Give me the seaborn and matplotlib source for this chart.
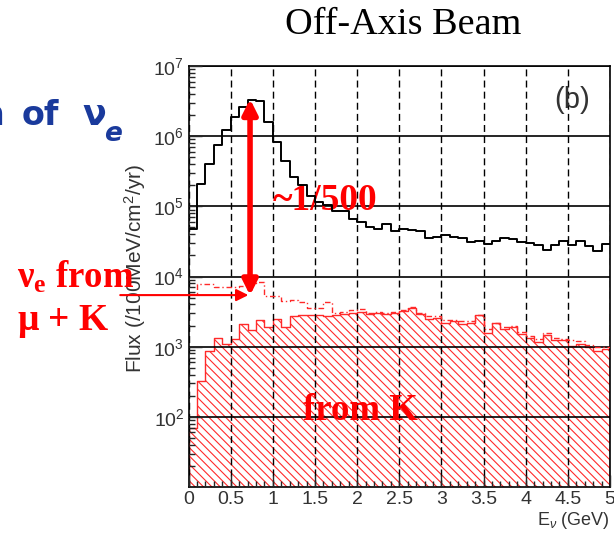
import numpy as np
import pandas as pd
import matplotlib
matplotlib.use("Agg")
import matplotlib.pyplot as plt
import seaborn as sns

# Energy bins (GeV), 0.1 GeV wide
energy_edges = [round(0.1 * i, 1) for i in range(51)]
energy_centers = [round(0.1 * i + 0.05, 2) for i in range(50)]

# nu_mu flux (black)
numu_flux = [4.8e4, 2.1e5, 4.0e5, 7.4e5, 1.23e6, 1.85e6, 2.57e6, 3.3e6, 3.2e6, 1.6e6,
             8.2e5, 4.4e5, 2.6e5, 2.0e5, 1.42e5, 1.17e5, 1.05e5, 8.5e4, 8.5e4, 6.7e4,
             5.9e4, 5.0e4, 4.8e4, 5.6e4, 4.5e4, 4.7e4, 4.6e4, 4.5e4, 3.5e4, 3.7e4,
             3.9e4, 3.7e4, 3.5e4, 3.1e4, 3.2e4, 2.9e4, 3.2e4, 3.5e4, 3.4e4, 3.1e4,
             3.0e4, 2.8e4, 2.4e4, 2.8e4, 3.2e4, 2.8e4, 3.2e4, 2.7e4, 2.3e4, 2.9e4]

# nu_e from mu + K (red dash-dot)
nue_total = [5.7e3, 7.9e3, 7.9e3, 7.2e3, 7.2e3, 7.2e3, 7.4e3, 8.0e3, 8.3e3, 5.2e3,
             5.2e3, 4.5e3, 4.6e3, 4.3e3, 3.6e3, 3.6e3, 4.3e3, 3.0e3, 3.1e3, 3.3e3,
             3.4e3, 3.0e3, 3.1e3, 3.0e3, 3.1e3, 3.3e3, 3.7e3, 3.0e3, 2.7e3, 2.7e3,
             2.4e3, 2.4e3, 2.3e3, 2.3e3, 2.8e3, 1.8e3, 2.2e3, 1.9e3, 2.0e3, 1.6e3,
             1.4e3, 1.3e3, 1.55e3, 1.35e3, 1.3e3, 1.25e3, 1.2e3, 1.05e3, 1.0e3, 1.0e3]

# nu_e from K (red hatched)
nue_from_k = [70, 320, 860, 1.35e3, 1.1e3, 1.3e3, 2.1e3, 1.7e3, 2.4e3, 1.9e3,
              2.5e3, 1.9e3, 2.7e3, 2.8e3, 2.8e3, 2.8e3, 2.7e3, 2.8e3, 2.9e3, 3.0e3,
              3.1e3, 2.9e3, 3.0e3, 2.9e3, 3.0e3, 3.2e3, 3.6e3, 2.9e3, 2.5e3, 2.6e3,
              2.2e3, 2.3e3, 2.1e3, 2.2e3, 2.8e3, 1.55e3, 2.15e3, 1.8e3, 1.9e3, 1.5e3,
              1.33e3, 1.15e3, 1.45e3, 1.25e3, 1.25e3, 1.03e3, 1.1e3, 1.0e3, 0.86e3, 0.93e3]

x_ticks = [0, 0.5, 1, 1.5, 2, 2.5, 3, 3.5, 4, 4.5, 5]
x_tick_labels = ["0", "0.5", "1", "1.5", "2", "2.5", "3", "3.5", "4", "4.5", "5"]
y_ticks = [1e2, 1e3, 1e4, 1e5, 1e6, 1e7]
y_tick_labels = ["$10^{2}$", "$10^{3}$", "$10^{4}$", "$10^{5}$", "$10^{6}$", "$10^{7}$"]

df = pd.DataFrame({"E": energy_centers, "numu": numu_flux,
                   "total": nue_total, "fromK": nue_from_k})

sns.set_theme(style="ticks")
plt.rcParams["font.family"] = ["Liberation Sans", "DejaVu Sans"]
plt.rcParams["text.color"] = "black"
plt.rcParams["mathtext.fontset"] = "custom"
plt.rcParams["mathtext.rm"] = "Liberation Sans"
plt.rcParams["mathtext.it"] = "Liberation Sans:italic"
plt.rcParams["mathtext.bf"] = "Liberation Serif:bold"
plt.rcParams["hatch.linewidth"] = 0.8

red = "#ff2a2a"
fig = plt.figure(figsize=(6.14, 5.35), dpi=100)
ax = fig.add_axes([188.5 / 614, 1 - 487 / 535, 421.5 / 614, 421 / 535])
ax.set_yscale("log")

# hatched "from K" histogram
sns.histplot(data=df, x="E", weights="fromK", bins=energy_edges, element="step",
             fill=True, color=red, hatch="\\\\\\\\", lw=1.0, alpha=1, ax=ax)
hatched = ax.collections[-1]
hatched.set_facecolor("none")
hatched.set_edgecolor(red)
hatched.set_zorder(1)

sns.histplot(data=df, x="E", weights="total", bins=energy_edges, element="step",
             fill=False, color=red, lw=1.0, linestyle=(0, (4, 2, 1, 2)), ax=ax, zorder=3)
sns.histplot(data=df, x="E", weights="numu", bins=energy_edges, element="step",
             fill=False, color="black", lw=1.4, ax=ax, zorder=4)

ax.set_xlim(0, 5)
ax.set_ylim(10, 1e7)
ax.set_xticks(x_ticks)
ax.set_xticklabels(x_tick_labels)
ax.set_xticks(energy_edges, minor=True)
ax.set_yticks(y_ticks)
ax.set_yticklabels(y_tick_labels)
ax.tick_params(axis="both", which="major", direction="in", length=9, width=1,
               labelsize=14, labelcolor="#333333", pad=3, top=False, right=False)
ax.tick_params(axis="both", which="minor", direction="in", length=4, width=1,
               top=False, right=False)
ax.xaxis.grid(True, which="major", ls=(0, (5, 3)), color="black", lw=1.0)
ax.yaxis.grid(True, which="major", ls="-", color="black", lw=1.2)
ax.set_axisbelow(False)
for s in ax.spines.values():
    s.set_linewidth(1.2)
    s.set_color("black")

ax.set_xlabel(r"E$_{\nu}$ (GeV)", fontsize=13, color="#333333", ha="right", x=1.0, labelpad=1)
ax.set_ylabel(r"Flux (/100MeV/cm$^{2}$/yr)", fontsize=15, color="#333333")
ax.yaxis.set_label_coords(-0.095, 0.52)

ax.text(4.55, 10**6.51, "(b)", fontsize=21, ha="center", va="center", color="#333333")

fig.text(403 / 614, 1 - 25 / 535, "Off-Axis Beam", ha="center", va="center",
         fontsize=27.5, family="Liberation Serif", color="black")

serif_bold = dict(family="Liberation Serif", weight="bold", color="red")
ax.text(1.0, 10**5.09, "~1/500", fontsize=27, ha="left", va="center", **serif_bold)
ax.text(1.36, 10**2.09, "from K", fontsize=26.5, ha="left", va="center", **serif_bold)
fig.text(17 / 614, 1 - 277 / 535, r"$\mathbf{\nu_e}$ from", fontsize=26.5, ha="left",
         va="center", **serif_bold)
fig.text(17 / 614, 1 - 322 / 535, r"$\mathbf{\mu}$ + K", fontsize=27, ha="left",
         va="center", **serif_bold)

ax.annotate("", xy=(0.73, 10**6.53), xytext=(0.73, 10**3.73),
            arrowprops=dict(arrowstyle="<|-|>", color="red", lw=4, mutation_scale=22,
                            shrinkA=0, shrinkB=0), zorder=6)
ax.annotate("", xy=(0.71, 10**3.735), xytext=(-0.81, 10**3.735), annotation_clip=False,
            arrowprops=dict(arrowstyle="-|>", color="red", lw=1.5, mutation_scale=18,
                            shrinkA=0, shrinkB=0), zorder=6)

blue = "#1a3a9c"
blue_font = dict(weight="bold", color=blue, family="DejaVu Sans", ha="left", va="baseline")
fig.text(-20 / 614, 1 - 125 / 535, "n", fontsize=24, **blue_font)
fig.text(22 / 614, 1 - 125 / 535, "of", fontsize=24, **blue_font)
fig.text(82 / 614, 1 - 125 / 535, "ν", fontsize=25, **blue_font)
fig.text(104 / 614, 1 - 141 / 535, "e", fontsize=19, style="italic", **blue_font)

fig.savefig("out.png", dpi=100)
